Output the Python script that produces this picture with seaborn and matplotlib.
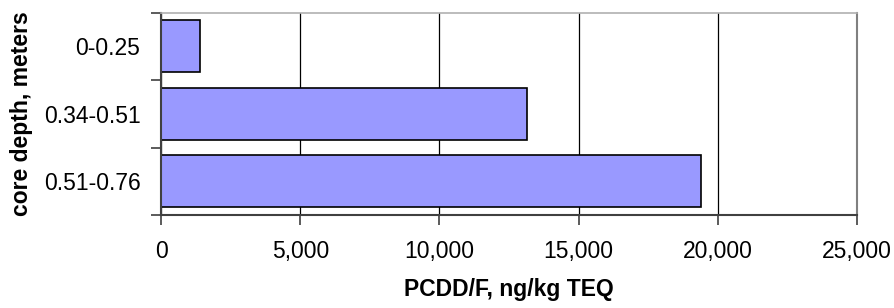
import matplotlib
matplotlib.use("Agg")
import matplotlib.pyplot as plt
import pandas as pd
import seaborn as sns
from matplotlib.ticker import FuncFormatter, FixedLocator

# Data
depths = ["0-0.25", "0.34-0.51", "0.51-0.76"]
teq_values = [1400, 13150, 19400]
x_ticks = [0, 5000, 10000, 15000, 20000, 25000]

df = pd.DataFrame({"depth": depths, "teq": teq_values})

sns.set_theme(style="white")
plt.rcParams["font.family"] = ["Liberation Sans", "DejaVu Sans"]

fig = plt.figure(figsize=(8.95, 3.08), dpi=100)
ax = fig.add_axes([0.1802, 0.302, 0.7770, 0.6568])

sns.barplot(
    data=df, x="teq", y="depth", orient="h", ax=ax,
    color="#9999FF", saturation=1, width=0.77,
    edgecolor="black", linewidth=1.2,
)

ax.set_xlim(0, 25000)
ax.set_ylim(2.5, -0.5)
ax.set_xticks(x_ticks)
ax.xaxis.set_major_formatter(FuncFormatter(lambda v, p: f"{int(v):,}"))
ax.xaxis.grid(True, color="black", linewidth=0.9)
ax.set_axisbelow(True)

# y ticks at category boundaries, labels at centres
ax.yaxis.set_minor_locator(FixedLocator([-0.5, 0.5, 1.5, 2.5]))
ax.tick_params(axis="y", which="major", length=0, labelsize=16.5, pad=15)
ax.tick_params(axis="y", which="minor", length=7, width=1.2, color="#404040", direction="out", left=True)
ax.tick_params(axis="x", which="major", length=7, width=1.2, color="#404040", direction="out",
               bottom=True, labelsize=16.5, pad=11)
for lab in ax.get_xticklabels() + ax.get_yticklabels():
    lab.set_color("black")

ax.spines["left"].set_color("#404040")
ax.spines["bottom"].set_color("#404040")
ax.spines["left"].set_linewidth(1.5)
ax.spines["bottom"].set_linewidth(1.5)
ax.spines["top"].set_color("#b0b0b0")
ax.spines["right"].set_color("#808080")
ax.spines["top"].set_linewidth(1.2)
ax.spines["right"].set_linewidth(1.5)

ax.set_xlabel("PCDD/F, ng/kg TEQ", fontsize=16.5, fontweight="bold", color="black", labelpad=11)
ax.set_ylabel("core depth, meters", fontsize=16.5, fontweight="bold", color="black", labelpad=8)

fig.savefig("out.png", dpi=100)
